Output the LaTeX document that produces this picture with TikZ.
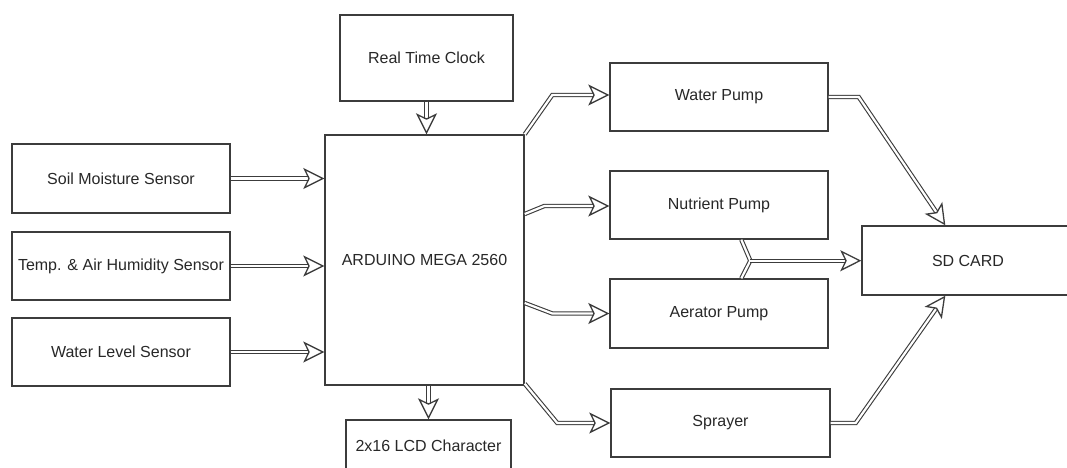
\documentclass[tikz,border=0pt]{standalone}
\usepackage{fontspec}
\setmainfont{Liberation Sans}
\usetikzlibrary{arrows.meta,calc}
\definecolor{ink}{RGB}{40,40,40}
\definecolor{edge}{RGB}{60,60,60}
\tikzset{
  blk/.style={draw=edge, line width=1.4pt, fill=white, inner sep=0pt,
    text=ink, font=\fontsize{16}{19}\selectfont},
  conn/.style={draw=edge, line width=1.1pt, double=white, double distance=2.2pt,
    line join=miter,
    -{Stealth[open, length=21pt, width=21pt, inset=5pt, line width=1.3pt]}},
  dblline/.style={draw=edge, line width=1.1pt, double=white, double distance=2.2pt, line join=miter}
}
\begin{document}
\begin{tikzpicture}[x=1pt,y=-1pt]
\useasboundingbox (0,0) rectangle (1067,467);
\fill[white] (0,0) rectangle (1067,467);
% nodes
\node[blk, minimum width=173pt, minimum height=86pt] (rtc) at (426.5,58) {Real Time Clock};
\node[blk, minimum width=218pt, minimum height=69pt] (soil) at (121,178.5) {Soil Moisture Sensor};
\node[blk, minimum width=218pt, minimum height=68pt] (temp) at (121,266) {Temp. \& Air Humidity Sensor};
\node[blk, minimum width=218pt, minimum height=68pt] (wls) at (121,352) {Water Level Sensor};
\node[blk, minimum width=199pt, minimum height=250pt] (ard) at (424.5,260) {ARDUINO MEGA 2560};
\node[blk, minimum width=165pt, minimum height=51pt] (lcd) at (428.5,445.5) {2x16 LCD Character};
\node[blk, minimum width=218pt, minimum height=68pt] (wp) at (719,97) {Water Pump};
\node[blk, minimum width=218pt, minimum height=68pt] (nut) at (719,205) {Nutrient Pump};
\node[blk, minimum width=218pt, minimum height=69pt] (aer) at (719,313.5) {Aerator Pump};
\node[blk, minimum width=219pt, minimum height=68pt] (spr) at (720.5,423) {Sprayer};
\node[blk, minimum width=212pt, minimum height=69pt] (sd) at (968,260.5) {SD CARD};
% connectors
\draw[conn] (rtc.south) -- (rtc.south |- ard.north);
\draw[conn] (soil.east) -- (soil.east -| ard.west);
\draw[conn] (temp.east) -- (temp.east -| ard.west);
\draw[conn] (wls.east) -- (wls.east -| ard.west);
\draw[conn] (lcd.north |- ard.south) -- (lcd.north);
\draw[conn] (ard.north east) -- ($(wp.west)+(-57,-2)$) -- ($(wp.west)+(0,-2)$);
\draw[conn] ($(ard.east)+(0,-46)$) -- ($(nut.west)+(-65,1)$) -- ($(nut.west)+(0,1)$);
\draw[conn] ($(ard.east)+(0,43)$) -- ($(aer.west)+(-57,0)$) -- (aer.west);
\draw[conn] ($(ard.south east)+(0,-2)$) -- ($(spr.west)+(-53,0)$) -- (spr.west);
\draw[conn] (wp.east) -- ($(wp.east)+(30,0)$) -- ($(sd.north west)+(84,0)$);
\draw[conn] (spr.east) -- ($(spr.east)+(25,0)$) -- ($(sd.south west)+(84,0)$);
\coordinate (mj) at ($(nut.south west)+(141,21)$);
\draw[dblline] ($(nut.south west)+(132,0)$) -- (mj) -- ($(aer.north west)+(132,0)$);
\draw[conn] (mj) -- (mj -| sd.west);
\end{tikzpicture}
\end{document}
